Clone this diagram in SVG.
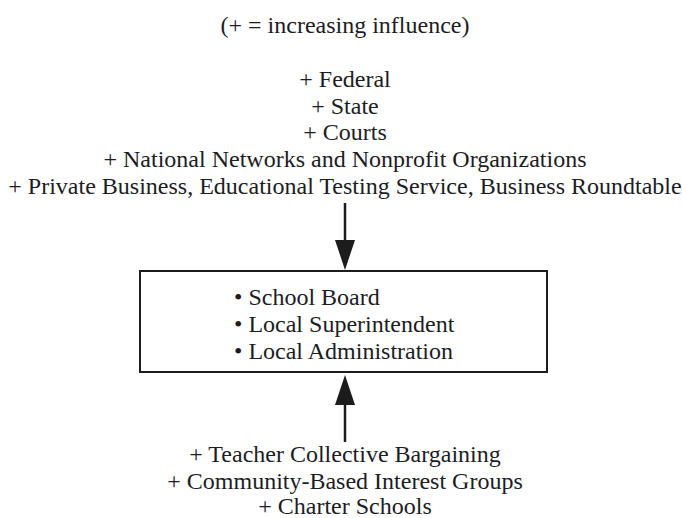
<svg xmlns="http://www.w3.org/2000/svg" width="682" height="518" viewBox="0 0 682 518">
<style>
text{font-family:'Liberation Serif','Times New Roman',serif;font-size:24px;fill:#1c1c24}
.c{text-anchor:middle}
.box{fill:#fff;stroke:#1c1c1c;stroke-width:2}
.ln{stroke:#1c1c1c;stroke-width:2.5;fill:none}
.ah{fill:#1c1c1c}
</style>
<rect width="682" height="518" fill="#fff"/>
<g id="legend"><text class="c" x="345" y="33">(+ = increasing influence)</text></g>
<g id="top-influences">
<text class="c" x="345" y="87">+ Federal</text>
<text class="c" x="345" y="113.5">+ State</text>
<text class="c" x="345" y="140">+ Courts</text>
<text class="c" x="345" y="167">+ National Networks and Nonprofit Organizations</text>
<text class="c" x="345" y="194">+ Private Business, Educational Testing Service, Business Roundtable</text>
</g>
<g id="local">
<rect class="box" x="140" y="271" width="407" height="101"/>
<text x="234" y="305">• School Board</text>
<text x="234" y="332">• Local Superintendent</text>
<text x="234" y="359">• Local Administration</text>
</g>
<g id="bottom-influences">
<text class="c" x="345" y="462">+ Teacher Collective Bargaining</text>
<text class="c" x="345" y="488.5">+ Community-Based Interest Groups</text>
<text class="c" x="345" y="514">+ Charter Schools</text>
</g>
<g id="connectors">
<line class="ln" x1="345" y1="203" x2="345" y2="245"/>
<polygon class="ah" points="335,240 355,240 345,270"/>
<line class="ln" x1="345" y1="442" x2="345" y2="400"/>
<polygon class="ah" points="335,405 355,405 345,375"/>
</g>
</svg>
